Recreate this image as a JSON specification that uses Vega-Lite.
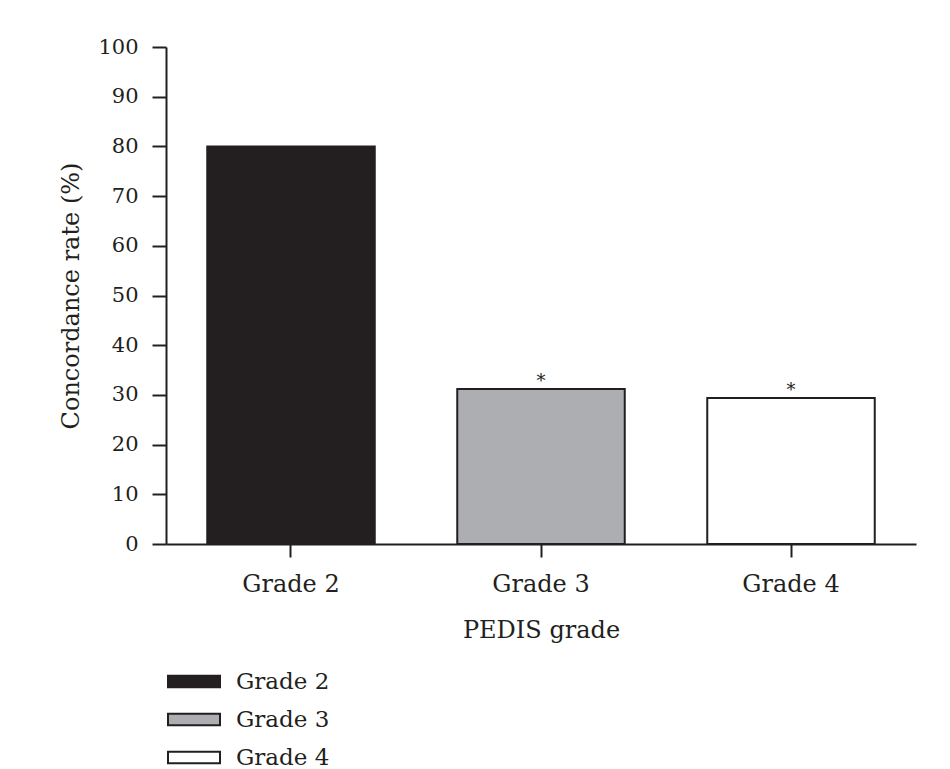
{
  "$schema": "https://vega.github.io/schema/vega-lite/v6.json",
  "width": 750,
  "height": 497,
  "autosize": {"type": "none"},
  "padding": {"left": 166, "top": 47, "right": 34, "bottom": 225},
  "background": "#ffffff",
  "config": {
    "font": "DejaVu Serif",
    "view": {"stroke": null},
    "axis": {
      "labelFont": "DejaVu Serif",
      "titleFont": "DejaVu Serif",
      "labelColor": "#231f20",
      "titleColor": "#231f20",
      "titleFontWeight": "normal",
      "domainColor": "#231f20",
      "tickColor": "#231f20",
      "domainWidth": 2,
      "tickWidth": 2,
      "grid": false
    },
    "legend": {
      "labelFont": "DejaVu Serif",
      "labelColor": "#231f20"
    }
  },
  "data": {
    "values": [
      {"grade": "Grade 2", "rate": 80, "sig": ""},
      {"grade": "Grade 3", "rate": 31.2, "sig": "*"},
      {"grade": "Grade 4", "rate": 29.4, "sig": "*"}
    ]
  },
  "encoding": {
    "x": {
      "field": "grade",
      "type": "nominal",
      "sort": null,
      "scale": {"paddingInner": 0.33},
      "axis": {
        "title": "PEDIS grade",
        "labelAngle": 0,
        "labelFontSize": 24,
        "titleFontSize": 24,
        "tickSize": 13,
        "labelPadding": 15,
        "titlePadding": 22
      }
    },
    "y": {
      "field": "rate",
      "type": "quantitative",
      "scale": {"domain": [0, 100]},
      "axis": {
        "title": "Concordance rate (%)",
        "values": [0, 10, 20, 30, 40, 50, 60, 70, 80, 90, 100],
        "labelFontSize": 21,
        "titleFontSize": 24,
        "tickSize": 14,
        "labelPadding": 14,
        "titlePadding": 14
      }
    }
  },
  "layer": [
    {
      "mark": {"type": "bar", "stroke": "#231f20", "strokeWidth": 2},
      "encoding": {
        "fill": {
          "field": "grade",
          "type": "nominal",
          "sort": null,
          "scale": {"range": ["#231f20", "#adaeb1", "#ffffff"]},
          "legend": {
            "title": null,
            "orient": "none",
            "legendX": -3,
            "legendY": 623,
            "padding": 0,
            "symbolType": "M-1,-0.9H7V0.9H-1Z",
            "symbolSize": 169,
            "symbolStrokeColor": "#231f20",
            "symbolStrokeWidth": 2,
            "labelFontSize": 23,
            "labelOffset": 50,
            "rowPadding": 14
          }
        }
      }
    },
    {
      "mark": {"type": "text", "baseline": "alphabetic", "dy": -2, "fontSize": 18, "color": "#231f20"},
      "encoding": {
        "text": {"field": "sig"}
      }
    }
  ]
}
